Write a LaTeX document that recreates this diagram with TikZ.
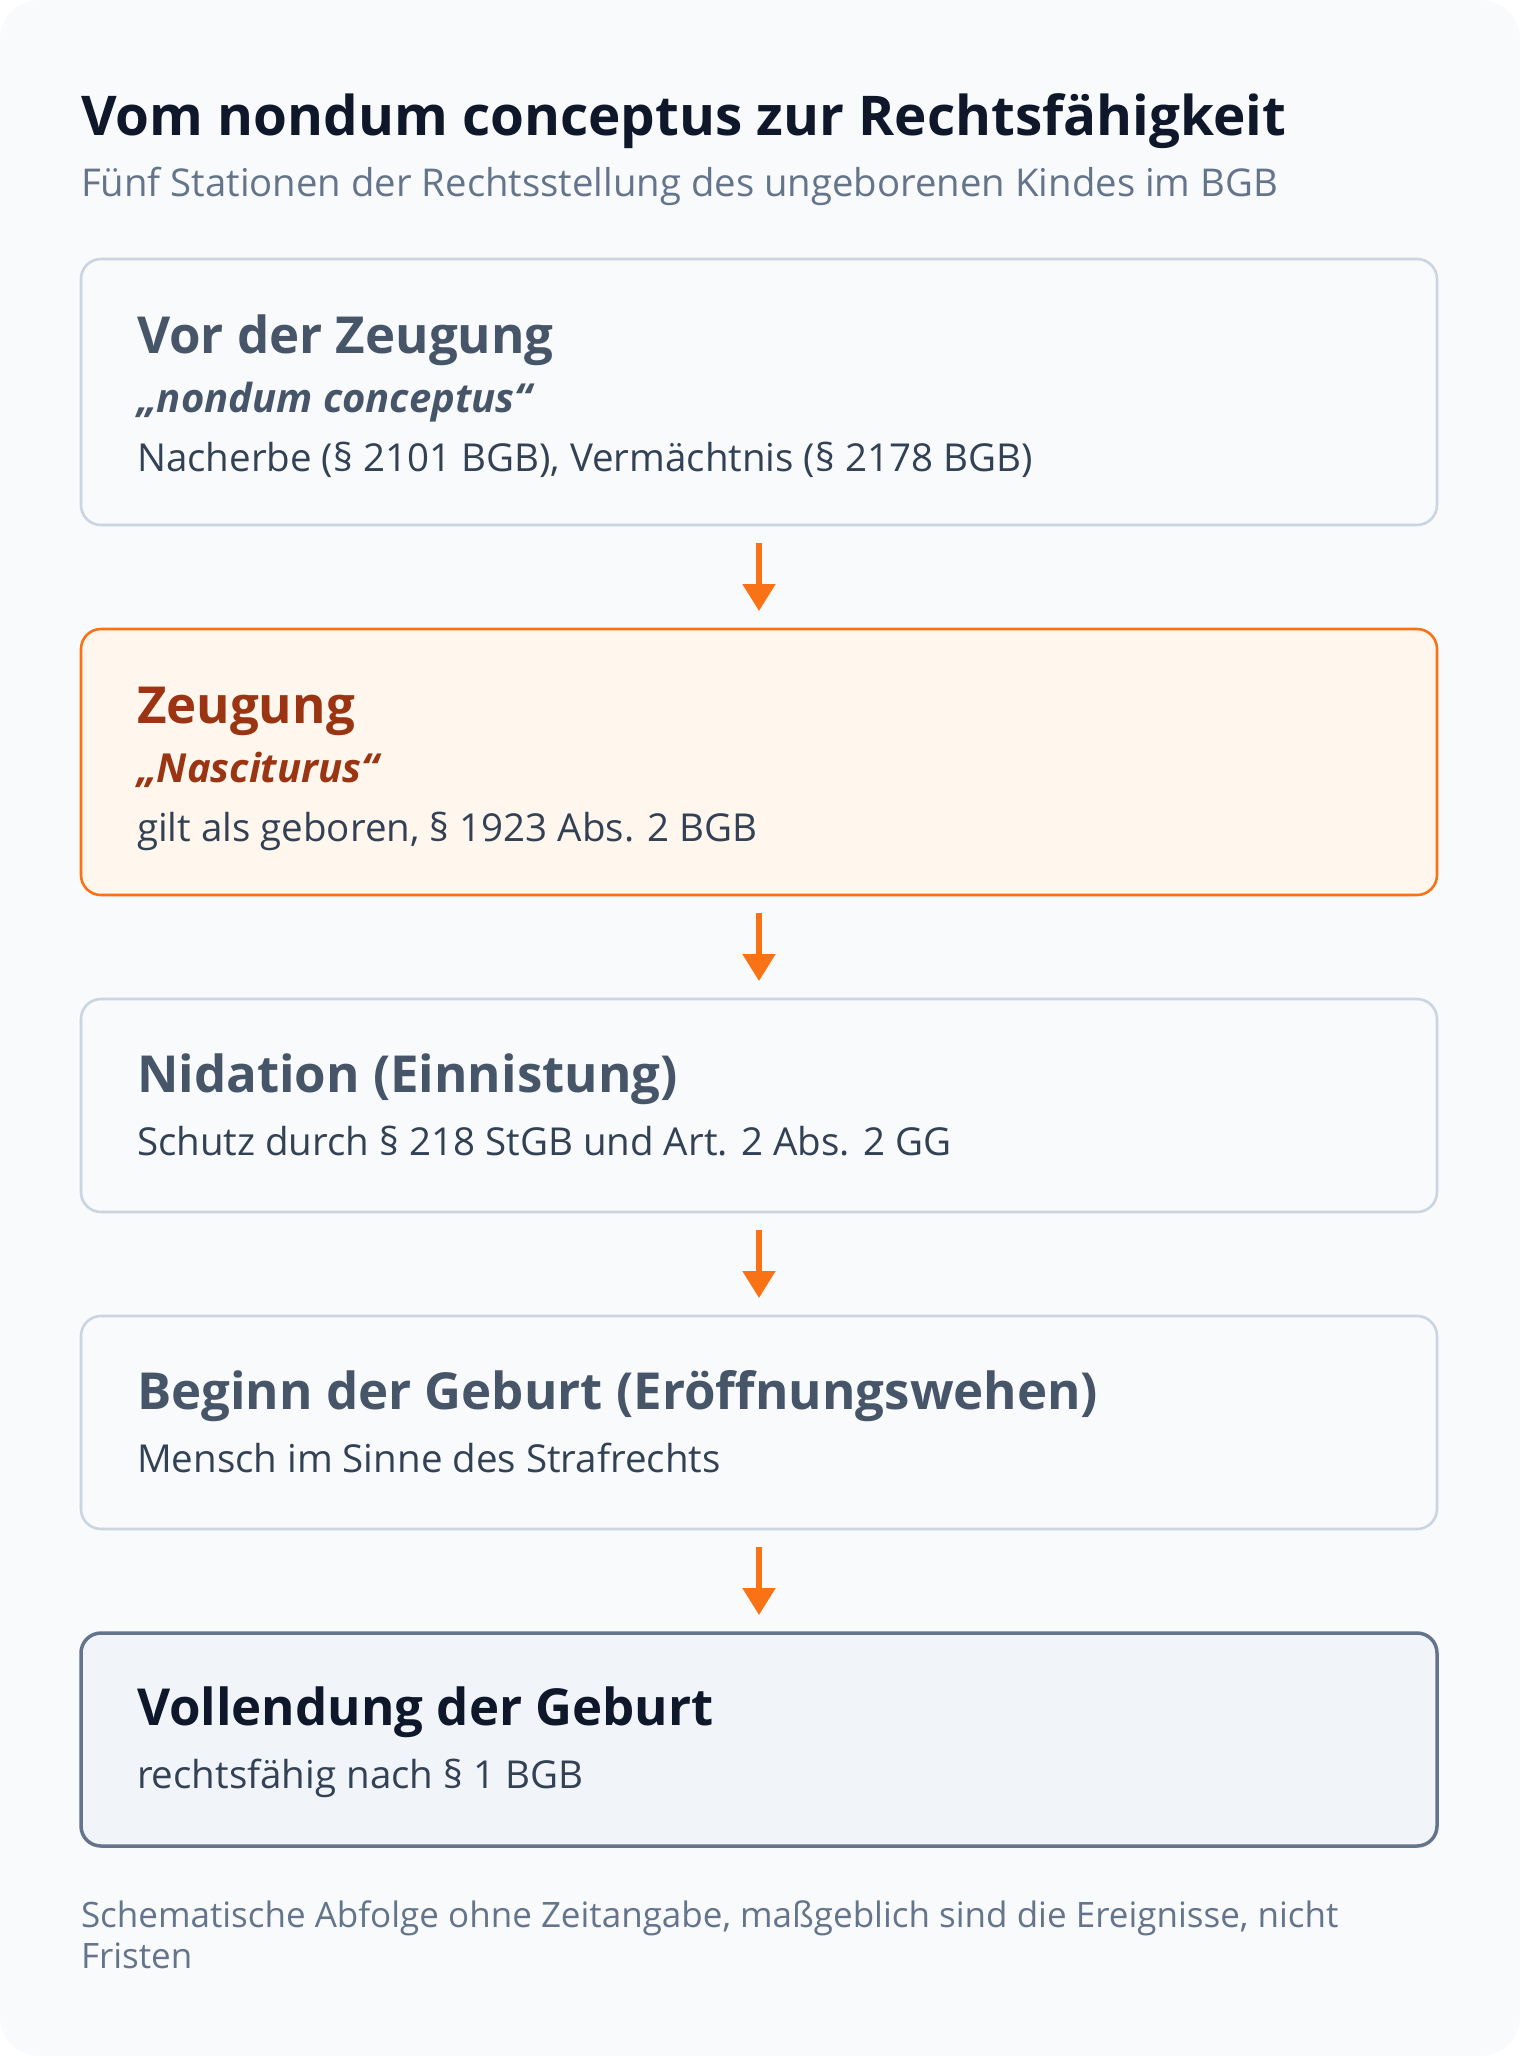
\documentclass[tikz,border=0pt]{standalone}
\usepackage{fontspec}
\setmainfont{Open Sans}
\usepackage{xcolor}
\usetikzlibrary{arrows.meta}

\definecolor{pagebg}{HTML}{F8FAFC}
\definecolor{ink}{HTML}{0F172A}
\definecolor{muted}{HTML}{64748B}
\definecolor{slate}{HTML}{475569}
\definecolor{bodyink}{HTML}{334155}
\definecolor{boxline}{HTML}{CBD5E1}
\definecolor{orange}{HTML}{F97316}
\definecolor{orangebg}{HTML}{FFF7ED}
\definecolor{rust}{HTML}{9A3412}
\definecolor{finalbg}{HTML}{F1F5F9}

\begin{document}
\begin{tikzpicture}[x=0.5pt, y=-0.5pt,
        box/.style={draw=boxline, fill=pagebg, line width=1.3pt,
            rounded corners=10pt, minimum width=678pt, inner sep=0pt,
            outer sep=0pt},
        tall/.style={minimum height=133pt},
        short/.style={minimum height=106.5pt},
        txt/.style={anchor=base west, inner sep=0pt, outer sep=0pt},
        head/.style={txt, font=\fontsize{25.5pt}{30pt}\selectfont\bfseries, text=slate},
        quote/.style={txt, font=\fontsize{20pt}{24pt}\selectfont\bfseries\itshape, text=slate},
        body/.style={txt, font=\fontsize{19.25pt}{22pt}\selectfont, text=bodyink},
        flow/.style={draw=orange, line width=2.6pt,
            -{Triangle[width=16pt, length=13.5pt]}, shorten <=9pt, shorten >=9pt}]
        \useasboundingbox (0,0) rectangle (1520,2056);
        \fill[white] (0,0) rectangle (1520,2056);
        \fill[pagebg, rounded corners=20pt] (0,0) rectangle (1520,2056);

        \node[txt, font=\fontsize{27.4pt}{32pt}\selectfont\bfseries, text=ink] (title) at (81,135) {Vom nondum conceptus zur Rechtsfähigkeit};
        \node[txt, font=\fontsize{19.15pt}{22pt}\selectfont, text=muted] (subtitle) at (81,196) {Fünf Stationen der Rechtsstellung des ungeborenen Kindes im BGB};

        \node[box, tall] (vor) at (759,392) {};
        \node[box, tall, draw=orange, fill=orangebg] (zeugung) at (759,762) {};
        \node[box, short] (nidation) at (759,1105.5) {};
        \node[box, short] (beginn) at (759,1422.5) {};
        \node[box, short, draw=muted, fill=finalbg, line width=1.75pt] (vollendung) at (759,1739.5) {};

        \node[head] (vorhead) at (137,353) {Vor der Zeugung};
        \node[quote] (vorquote) at (137,412) {„nondum conceptus“};
        \node[body] (vorbody) at (137,471) {Nacherbe (§ 2101 BGB), Vermächtnis (§ 2178 BGB)};

        \node[head, text=rust] (zeuhead) at (137,723) {Zeugung};
        \node[quote, text=rust] (zeuquote) at (137,782) {„Nasciturus“};
        \node[body] (zeubody) at (137,841) {gilt als geboren, § 1923 Abs. 2 BGB};

        \node[head] (nidhead) at (137,1092) {Nidation (Einnistung)};
        \node[body] (nidbody) at (137,1155) {Schutz durch § 218 StGB und Art. 2 Abs. 2 GG};

        \node[head] (beghead) at (137,1409) {Beginn der Geburt (Eröffnungswehen)};
        \node[body] (begbody) at (137,1472) {Mensch im Sinne des Strafrechts};

        \node[head, text=ink] (volhead) at (137,1725) {Vollendung der Geburt};
        \node[body] (volbody) at (137,1788) {rechtsfähig nach § 1 BGB};

        \node[txt, font=\fontsize{17.5pt}{20pt}\selectfont, text=muted] (note1) at (81,1927) {Schematische Abfolge ohne Zeitangabe, maßgeblich sind die Ereignisse, nicht};
        \node[txt, font=\fontsize{17.5pt}{20pt}\selectfont, text=muted] (note2) at (81,1968) {Fristen};

        \draw[flow] (vor) -- (zeugung);
        \draw[flow] (zeugung) -- (nidation);
        \draw[flow] (nidation) -- (beginn);
        \draw[flow] (beginn) -- (vollendung);
    \end{tikzpicture}
\end{document}
